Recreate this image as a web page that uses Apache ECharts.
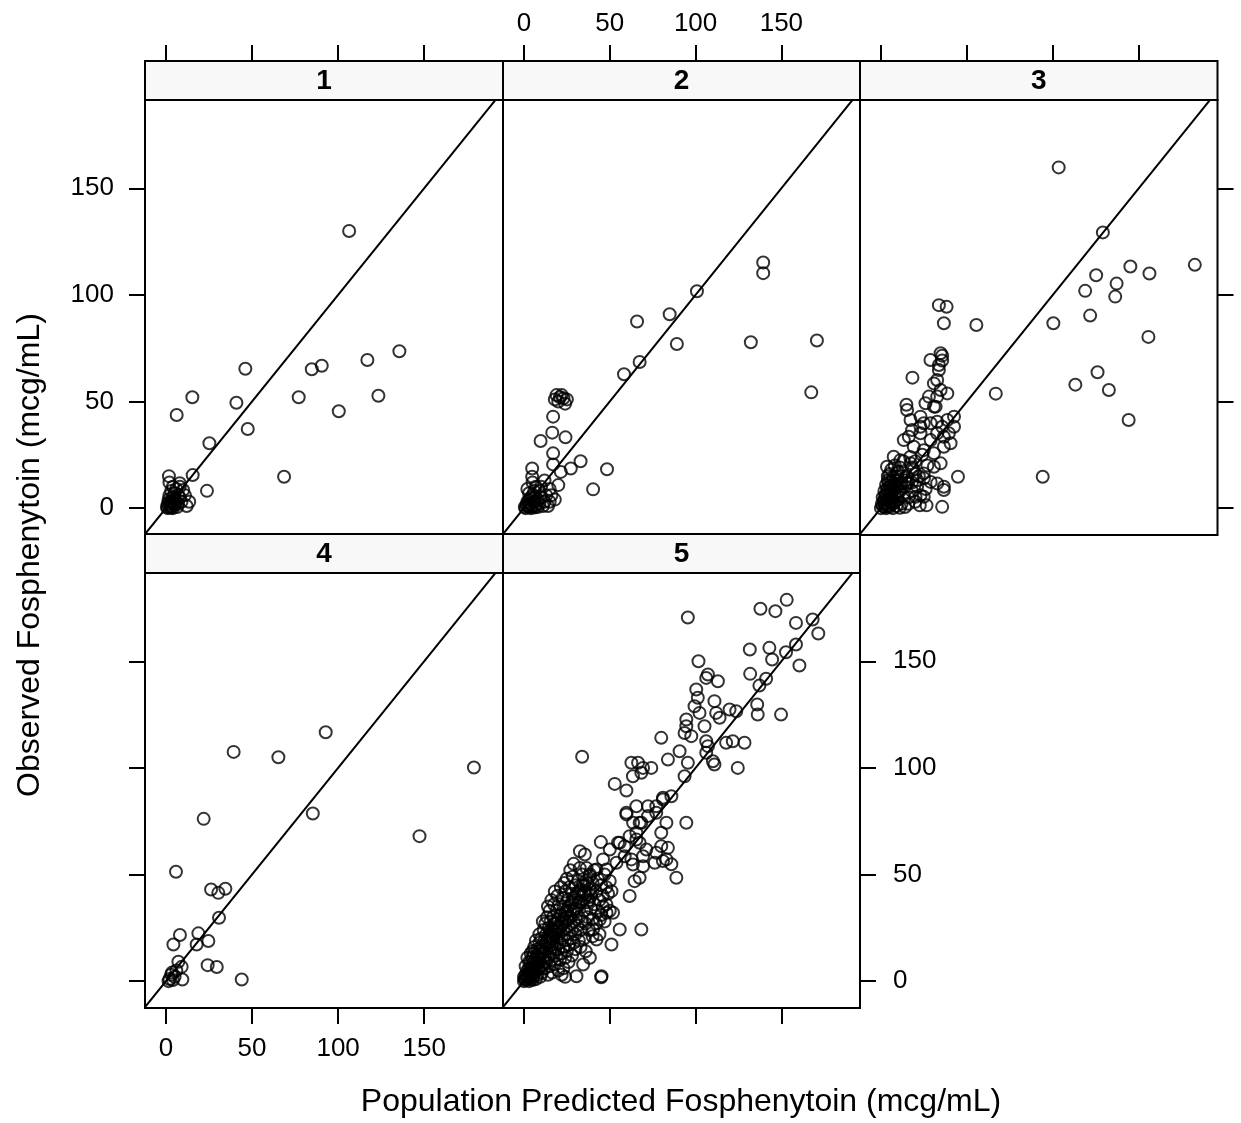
<!DOCTYPE html>
<html>
<head>
<meta charset="utf-8">
<script src="https://cdn.jsdelivr.net/npm/echarts@6/dist/echarts.min.js"></script>
<style>
  html, body { margin: 0; padding: 0; background: #fff; }
  #chart { width: 1241px; height: 1123px; }
</style>
</head>
<body>
<div id="chart"></div>
<script>
// Panel labels (conditioning levels)
const panelLabels = ['1', '2', '3', '4', '5'];

// Tick values shared by every axis
const tickValues = [0, 50, 100, 150];

// Axis titles
const xTitle = 'Population Predicted Fosphenytoin (mcg/mL)';
const yTitle = 'Observed Fosphenytoin (mcg/mL)';

// [population predicted, observed] pairs, one array per panel
const panel1 = [
  [106.4,130],[135.6,73.6],[117,69.5],[90.5,66.8],[84.7,65.1],[46.1,65.4],[15.3,52],[6.2,43.7],
  [40.9,49.4],[77.1,52],[123.4,52.7],[100.4,45.4],[47.5,37.1],[25.2,30.4],[68.6,14.7],[15.5,15.5],
  [23.8,8.1],[1.7,15],[13.5,3],[8,11.7],[10,8.5],
  [1,0],[2,0.5],[3,1],[4,0],[2.5,2],[3.5,3],[5,1.5],[1.5,4],[4,5],[6,3],[2,6],[5,7],[7,2],[3,8],
  [6,9],[8,5],[4,10],[2,12],[1,2],[0.5,0.5],[3,0.2],[5,4],[7,6],[9,3],[11,6],[4.5,2.5],[6.5,0.5],
  [2,3],[8,10],[12,1]
];

const panel2 = [
  [139.4,115.2],[139.4,110.2],[100.8,101.7],[84.9,90.9],[65.9,87.5],[89.1,77],[132.2,77.8],
  [170.7,78.6],[167.4,54.3],[67.4,68.5],[58.3,62.8],
  [19,53],[21,52],[23,51.5],[24,49],[20,50],[22,53],[25,51],[18,51],
  [17,42.9],[16.5,35.4],[9.7,31.5],[24.2,33.2],[17,25.7],[17,20.5],[33,22],[27.3,18.6],[48.4,18.2],
  [40.3,8.8],[21.5,17],[20,10.8],[4.8,18.6],[4.8,14.7],[15,3],
  [1,0],[2,1],[3,0.5],[4,2],[5,1],[2,3],[3,4],[6,3],[7,1.5],[4,5],[8,4],[5,6],[9,2],[10,5],[6,8],
  [3,7],[11,1],[12,3],[7,10],[9,8],[13,6],[5,12],[2,9],[15,9],[14,1],[1.5,1.5],[0.5,0.5],[4,0],
  [6,0.3],[3,2],[8,0.5],[6,5],[10,10],[12,13],[16,6],[18,4]
];

const panel3 = [
  [103.4,159.8],[129.1,129.3],[182.6,114.1],[145.1,113.3],[156.2,110],[125.2,109.2],[137.1,105.3],
  [136.3,99.2],[118.8,101.9],[121.7,90.3],[100.3,86.7],[155.6,80.3],[126,63.7],[113.1,57.9],
  [132.6,55.4],[144.1,41.3],[94.1,14.7],[66.8,53.7],[55.5,85.9],[33.7,95.2],[38.2,94.4],[36.6,86.7],
  [18.3,61.2],[14.8,48.5],[28.8,69.5],[35.6,71.5],[35.6,69.2],[33.7,64.8],[30.8,58.5],[34.7,55.4],
  [38.6,53.8],[27.9,52.3],[31.8,47.6],[44.8,14.7],[35.6,0.6],[22.6,1.3],[26.5,1.3],[36.6,8.5],
  [33.7,67.1],[32.7,60.1],[34.7,72.6],
  [23,42.9],[28.9,39.8],[32.7,40.5],[42.5,42.9],[42.5,38.2],[17.2,41.3],[16.2,33.5],[13.3,31.9],
  [23,35.1],[28.9,31.9],[36.6,33.5],[40.5,30.4],[36.6,28.8],[30.8,25.7],[24.9,27.2],[19.1,28.8],
  [34.7,21],[30.8,19.4],[24.9,16.3],[21,13.1],[32.7,11.6],[28.9,12.3],[36.6,10],[17.2,21],[11.3,22.5],
  [7.4,24.1],[3.5,19.4],[9.3,16.3],[15.2,11.6],[20.1,5.3],[24.9,5.3],
  [24.9,39.8],[25.9,49.2],[32.7,52.3],[30.8,47.6],[38.6,41.3],[35.6,38.2],[32.7,35.1],[23,38.2],
  [15.2,46],[18.1,36.6],[39.5,35.1],
  [0,0],[1,1],[2,0.5],[3,2],[4,1],[5,3],[2,4],[3,6],[4,8],[6,5],[7,2],[8,7],[5,10],[6,12],[7,14],
  [9,10],[10,4],[11,8],[12,12],[3,11],[4,15],[6,18],[8,20],[10,17],[12,2],[13,6],[14,10],[15,15],
  [16,5],[18,8],[19,18],[17,24],[20,22],[21,10],[22,15],[2,8],[1,5],[0.5,2],[3,0],[5,0.5],[7,0],
  [9,1],[11,0.2],[8,3],[6,9],[4,13],[9,15],[11,19],[13,22],[5,16],[14,0.5],[16,2],[18,12],[20,3],
  [23,6],[25,14],[27,20],[24,25],[26,9],[10,13],
  [1.5,3],[2.5,6],[3.5,9],[4.5,12],[5.5,7],[6.5,3],[7.5,10],[8.5,13],[9.5,6],[10.5,11],
  [2,2],[4,4],[6,6],[8,9],[10,8],[12,15],[14,13],[16,12],[18,19],[20,16]
];

const panel4 = [
  [92.8,116.7],[39.3,107.5],[65.3,105],[178.9,100.2],[85.3,78.6],[21.9,76.1],[147.3,68],[5.8,51.3],
  [26.2,43],[30.4,41.4],[34.5,43.3],[30.8,29.7],[8.1,21.6],[4.3,17.2],[18.8,22.4],[24.6,18.8],
  [17.8,17.2],[24.2,7.5],[29.5,6.6],[44,0.8],[7.2,9.1],[9.1,6.7],[9.5,0.8],[2,1],[3,3],[4,0.5],
  [1.5,0],[5,2],[3.5,4],[6,5]
];

const panel5 = [
  [153.1,178.8],[137.8,174.6],[146.5,173.5],[168.2,169.6],[95.5,170.5],[158.5,168],[171.5,163],
  [158.5,157.9],[152.7,154.2],[143,156.3],[144.6,150.8],[131.6,155.5],[160.5,148],[101.7,150],
  [131.8,144.1],[141.1,141.8],[137.2,138.6],[107.2,143.8],[113,140.6],[106.2,142.2],[100.4,136.8],
  [101.3,132.9],[99.4,128.9],[102.3,125.8],[111,131.3],[112,125.8],[114,123.5],[119.8,127.4],
  [123.7,126.6],[135.9,129.7],[136.2,125],[149.8,125],[94.6,122.7],[94.6,119.5],[93.6,116.4],
  [97.5,114.9],[105.2,119.5],[106.2,112.5],[107.2,110.2],[106.2,107.1],[80,114.1],[90.7,107.8],
  [117.8,111.8],[121.7,112.5],[128.5,111.8],[111,101.6],[110.1,103.1],[124.6,100],[83.9,103.9],
  [95.5,102.4],[93.6,96.1],[33.9,105.2],[62.6,102.4],[66.5,102.4],[69.4,100],[74.2,100],[63.5,96.1],
  [68.4,97.7],[52.9,92.5],[59.7,89.4],[81,86],[85.9,86.7],[72.3,82],[65.5,82],[59.7,78.2],[77.1,79],
  [94.6,74.3],[83,74.3],[80,69.6],[67.4,74.3],[65.5,66.4],[83.9,62.5],[81,56.3],[85.9,54.8],
  [88.8,48.5],[76.2,55.5],[44.8,65.2],[54.8,64.9],[58.7,63.3],[32.6,60.9],[35.5,59.4],[69.4,58.6],
  [63.5,54.7],[67.4,48.5],[64.5,46.9],[61.6,39.9],[51,42.2],
  [59.7,79],[63.6,74.3],[68.4,74.3],[65.5,69.6],[72.3,77.4],[77.1,82],[81,85.2],[55.8,64.9],
  [61.6,68],[67.4,64.9],[71.3,61.7],[58.7,58.6],[62.6,57.1],[69.4,53.9],[77.1,60.2],[83,57.1],
  [80,63.3],[50,61.7],[46.1,57.1],[42.3,52.4],[38.4,49.2],[48.1,52.4],[53.9,55.5],
  [45.2,2.3],[45,1.8],[38.4,11],[34.5,7.8],[30.6,2.3],[51.9,32.1],[48.1,32.1],[44.2,28.9],
  [40.3,24.2],[42.3,19.5],[68.4,24.2],[55.8,24.2],[51,17.2],
  [0,0],[0.5,1],[1,0.5],[1.5,2],[2,1],[2.5,3],[3,0],[3,4],[3.5,2],[4,1],[4,6],[4.5,3],[5,0.5],
  [5,5],[1,3],[2,5],[0,2],[1,7],[3,9],[2,11],[4,13],[5,8],
  [5.5,2],[6,4],[6,7],[6.5,10],[7,1],[7,5],[7.5,12],[8,3],[8,8],[8,15],[8.5,6],[9,10],[9,18],
  [9.5,2],[10,7],[10,13],[10,20],[6,16],[7,19],[9,22],[5,14],
  [10.5,4],[11,10],[11,16],[11.5,24],[12,6],[12,12],[12,19],[12.5,27],[13,9],[13,15],[13,22],
  [13.5,30],[14,3],[14,11],[14,18],[14.5,25],[15,7],[15,14],[15,21],[15,33],[11,28],[14,35],
  [15.5,28],[16,10],[16,17],[16,24],[16.5,4],[17,13],[17,20],[17,30],[17.5,36],[18,8],[18,16],
  [18,23],[18.5,27],[19,12],[19,19],[19,33],[19.5,40],[20,5],[20,15],[20,22],[20,29],[16,38],[18,42],
  [20.5,36],[21,10],[21,18],[21,25],[21.5,44],[22,13],[22,20],[22,31],[22.5,39],[23,6],[23,16],
  [23,24],[23,35],[23.5,46],[24,11],[24,19],[24,28],[24,42],[25,14],[25,22],[25,33],[25,48],[22,3],[24,2],
  [25.5,38],[26,9],[26,17],[26,26],[26.5,44],[27,20],[27,30],[27.5,36],[28,12],[28,24],[28,41],
  [28.5,49],[29,18],[29,28],[29,33],[30,15],[30,22],[30,38],[30,45],[27,52],[29,55],
  [31,26],[31,34],[31.5,47],[32,19],[32,30],[32,42],[32.5,53],[33,24],[33,37],[34,28],[34,45],
  [34,50],[35,20],[35,33],[35,41],[36,27],[36,47],[36.5,53],[37,37],[37,30],[38,24],[38,43],
  [38.5,50],[39,34],[39,40],[40,29],[40,46],[33,16],[36,14],[40,21],
  [41,36],[41,52],[42,27],[42,42],[43,33],[43,48],[44,38],[44,22],[45,31],[45,45],[46,40],[46,35],
  [47,28],[47,50],[48,44],[48,36],[49,41],[50,33],[50,47],
  [2,2],[3,6],[4,9],[5,11],[6,13],[7,8],[8,11],[9,14],[10,16],[11,13],[12,9],[13,18],[14,21],
  [15,18],[16,21],[17,24],[18,27],[19,24],[20,26],[21,31],[22,27],[23,29],[24,32],[25,30],[26,35],
  [27,33],[28,37],[29,39],[30,34],[31,41],[32,37],[33,43],[34,40],[35,45],[36,42],[37,46],[38,38]
];

const panels = [panel1, panel2, panel3, panel4, panel5];

// Reference line y = x
const identityEnds = [-20, 220];

// ---- layout ----
const FONT = '"Liberation Sans", Arial, Helvetica, sans-serif';
const X_MIN = -12.2, X_MAX = 195.8;
const Y_MIN = -12.6, Y_MAX = 191.4;
const STRIP_H = 39;
const COL_LEFT = [145, 503, 860];
const COL_W = [358, 357, 357.5];
const ROW_TOP = [100, 573];   // panel tops (below strips)
const PANEL_H = 435;
const BORDER = 2;
const TICK_LEN = 16;

// panel index -> [row, col]
const cells = [[0,0],[0,1],[0,2],[1,0],[1,1]];

// which sides carry ticks / labels, lattice-style alternating
const xSide = [
  { pos: 'top', ticks: true, labels: false },
  { pos: 'top', ticks: true, labels: true },
  { pos: 'top', ticks: true, labels: false },
  { pos: 'bottom', ticks: true, labels: true },
  { pos: 'bottom', ticks: true, labels: false }
];
const ySide = [
  { pos: 'left', ticks: true, labels: true },
  { pos: 'left', ticks: false, labels: false },
  { pos: 'right', ticks: true, labels: false },
  { pos: 'left', ticks: true, labels: false },
  { pos: 'right', ticks: true, labels: true }
];

const grids = [], xAxes = [], yAxes = [], series = [], graphics = [];

cells.forEach(function (rc, i) {
  const r = rc[0], c = rc[1];
  const left = COL_LEFT[c], top = ROW_TOP[r], w = COL_W[c];
  grids.push({
    left: left, top: top, width: w, height: PANEL_H,
    show: true, borderColor: '#000', borderWidth: BORDER, backgroundColor: 'transparent'
  });

  const xs = xSide[i];
  xAxes.push({
    type: 'value', gridIndex: i, min: X_MIN, max: X_MAX,
    position: xs.pos, offset: xs.pos === 'top' ? STRIP_H : 0,
    axisLine: { show: false, onZero: false },
    axisTick: { show: xs.ticks, inside: false, length: TICK_LEN, customValues: tickValues,
                lineStyle: { color: '#000', width: BORDER } },
    axisLabel: { show: xs.labels, customValues: tickValues, margin: xs.pos === 'top' ? 24 : 28,
                 color: '#000', fontSize: 26, fontFamily: FONT },
    splitLine: { show: false }
  });

  const ys = ySide[i];
  yAxes.push({
    type: 'value', gridIndex: i, min: Y_MIN, max: Y_MAX,
    position: ys.pos,
    axisLine: { show: false, onZero: false },
    axisTick: { show: ys.ticks, inside: false, length: TICK_LEN, customValues: tickValues,
                lineStyle: { color: '#000', width: BORDER } },
    axisLabel: { show: ys.labels, customValues: tickValues, margin: ys.pos === 'left' ? 31 : 33,
                 color: '#000', fontSize: 26, fontFamily: FONT },
    splitLine: { show: false }
  });

  series.push({
    type: 'scatter', xAxisIndex: i, yAxisIndex: i,
    data: panels[i],
    symbol: 'circle', symbolSize: 12,
    itemStyle: { color: 'rgba(0,0,0,0)', borderColor: '#000', borderWidth: 2 },
    silent: true
  });
  series.push({
    type: 'line', xAxisIndex: i, yAxisIndex: i,
    data: identityEnds.map(function (v) { return [v, v]; }),
    showSymbol: false, clip: true,
    lineStyle: { color: '#000', width: 2 },
    silent: true
  });

  // strip with panel label
  graphics.push({
    type: 'rect', z: 10,
    shape: { x: left, y: top - STRIP_H, width: w, height: STRIP_H },
    style: { fill: '#f8f8f8', stroke: '#000', lineWidth: BORDER }
  });
  graphics.push({
    type: 'text', z: 11,
    x: left + w / 2, y: top - STRIP_H / 2 + 1,
    style: { text: panelLabels[i], fill: '#000', font: 'bold 28px ' + FONT,
             textAlign: 'center', textVerticalAlign: 'middle' }
  });
});

graphics.push({
  type: 'text', x: 681, y: 1102,
  style: { text: xTitle, fill: '#000', font: '32px ' + FONT,
           textAlign: 'center', textVerticalAlign: 'middle' }
});
graphics.push({
  type: 'text', x: 30, y: 555, rotation: Math.PI / 2,
  style: { text: yTitle, fill: '#000', font: '32px ' + FONT,
           textAlign: 'center', textVerticalAlign: 'middle' }
});

const chart = echarts.init(document.getElementById('chart'), null, { renderer: 'canvas' });
chart.setOption({
  animation: false,
  backgroundColor: '#fff',
  textStyle: { fontFamily: FONT },
  grid: grids,
  xAxis: xAxes,
  yAxis: yAxes,
  series: series,
  graphic: graphics
});
</script>
</body>
</html>
